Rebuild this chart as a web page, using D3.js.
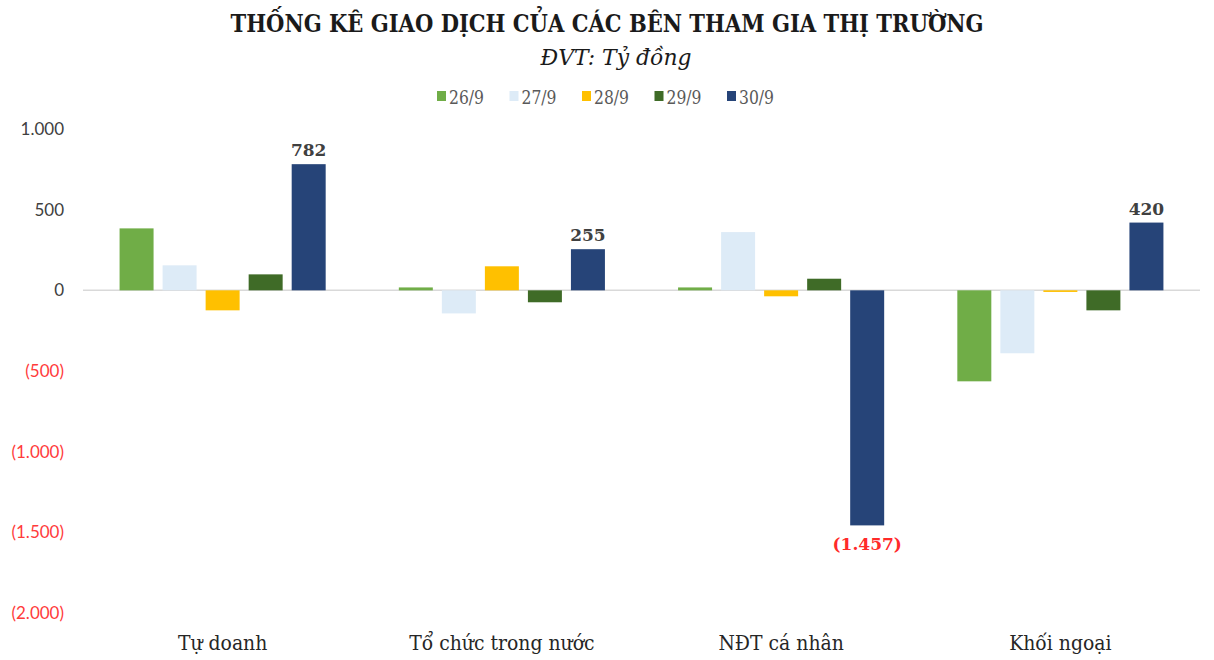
<!DOCTYPE html>
<html><head><meta charset="utf-8">
<script src="https://cdn.jsdelivr.net/npm/d3@7"></script>
<style>html,body{margin:0;padding:0;background:#fff;}</style>
</head><body><svg id="c" width="1214" height="660"></svg>
<script>
const categories = ["Tự doanh", "Tổ chức trong nước", "NĐT cá nhân", "Khối ngoại"];
const seriesNames = ["26/9", "27/9", "28/9", "29/9", "30/9"];
const s26 = [384, 18, 18, -564];
const s27 = [155, -143, 361, -390];
const s28 = [-124, 149, -37, -10];
const s29 = [99, -74, 72, -124];
const s30 = [782, 255, -1457, 420];
const seriesValues = [s26, s27, s28, s29, s30];
const seriesColors = ["#70AD47", "#DDEBF7", "#FFC000", "#3F6B27", "#264478"];
const yTicks = [1000, 500, 0, -500, -1000, -1500, -2000];
const labeledSeries = 4;

const svg = d3.select("#c");
const W = 1214;
const x0 = 83, x1 = 1200;
const y = d3.scaleLinear().domain([-2000, 1000]).range([613, 129]);
const xCat = d3.scaleBand().domain(categories).range([x0, x1]);
const xSer = d3.scaleBand().domain(seriesNames).range([0, xCat.bandwidth()]).paddingInner(0.21).paddingOuter(0.85);

const fmt = v => {
  const s = d3.format(",")(Math.abs(v)).replace(/,/g, ".");
  return v < 0 ? "(" + s + ")" : s;
};

// title
svg.append("text").attr("x", W/2).attr("y", 32).attr("text-anchor", "middle")
  .attr("font-family", "DejaVu Serif").attr("font-weight", "bold").attr("font-size", 25)
  .attr("fill", "#1a1a1a").attr("textLength", 753).attr("lengthAdjust", "spacingAndGlyphs")
  .text("THỐNG KÊ GIAO DỊCH CỦA CÁC BÊN THAM GIA THỊ TRƯỜNG");
svg.append("text").attr("x", 616).attr("y", 65).attr("text-anchor", "middle")
  .attr("font-family", "DejaVu Serif").attr("font-style", "italic").attr("font-size", 23)
  .attr("fill", "#1a1a1a").attr("textLength", 151).attr("lengthAdjust", "spacingAndGlyphs")
  .text("ĐVT: Tỷ đồng");

// legend
const leg = svg.append("g");
let lx = 437;
seriesNames.forEach((n, i) => {
  leg.append("rect").attr("x", lx).attr("y", 91).attr("width", 9).attr("height", 10).attr("fill", seriesColors[i]);
  leg.append("text").attr("x", lx + 12).attr("y", 104)
    .attr("font-family", "DejaVu Serif").attr("font-size", 18).attr("fill", "#595959")
    .attr("textLength", 35).attr("lengthAdjust", "spacingAndGlyphs").text(n);
  lx += 72.5;
});

// y axis
const yAxis = d3.axisLeft(y).tickValues(yTicks).tickSize(0).tickPadding(0).tickFormat(fmt);
const ga = svg.append("g").attr("transform", "translate(64,0)").call(yAxis);
ga.select(".domain").remove();
ga.selectAll("text").attr("font-family", "Lato").attr("font-size", 17)
  .attr("fill", d => d < 0 ? "#FF3B3B" : "#404040");

// zero line
svg.append("line").attr("x1", x0).attr("x2", x1).attr("y1", y(0)).attr("y2", y(0))
  .attr("stroke", "#d9d9d9").attr("stroke-width", 1.5);

// bars
const data = [];
categories.forEach((c, ci) => seriesNames.forEach((s, si) => data.push({c, s, si, v: seriesValues[si][ci]})));
svg.append("g").selectAll("rect").data(data).join("rect")
  .attr("x", d => xCat(d.c) + xSer(d.s))
  .attr("width", xSer.bandwidth())
  .attr("y", d => y(Math.max(0, d.v)))
  .attr("height", d => Math.abs(y(d.v) - y(0)))
  .attr("fill", d => seriesColors[d.si]);

// data labels
svg.append("g").selectAll("text").data(data.filter(d => d.si === labeledSeries)).join("text")
  .attr("x", d => xCat(d.c) + xSer(d.s) + xSer.bandwidth()/2)
  .attr("y", d => d.v >= 0 ? y(d.v) - 8 : y(d.v) + 25)
  .attr("text-anchor", "middle").attr("font-family", "DejaVu Serif").attr("font-weight", "bold")
  .attr("font-size", 17).attr("fill", d => d.v < 0 ? "#FF2A2A" : "#404040")
  .text(d => fmt(d.v));

// category labels (condensed to match the reference)
svg.append("g").selectAll("text").data(categories).join("text")
  .attr("x", d => xCat(d) + xCat.bandwidth()/2).attr("y", 650)
  .attr("text-anchor", "middle").attr("font-family", "DejaVu Serif").attr("font-size", 20)
  .attr("fill", "#262626").text(d => d)
  .each(function() {
    const len = this.getComputedTextLength();
    d3.select(this).attr("textLength", len * 0.94).attr("lengthAdjust", "spacingAndGlyphs");
  });
</script></body></html>
